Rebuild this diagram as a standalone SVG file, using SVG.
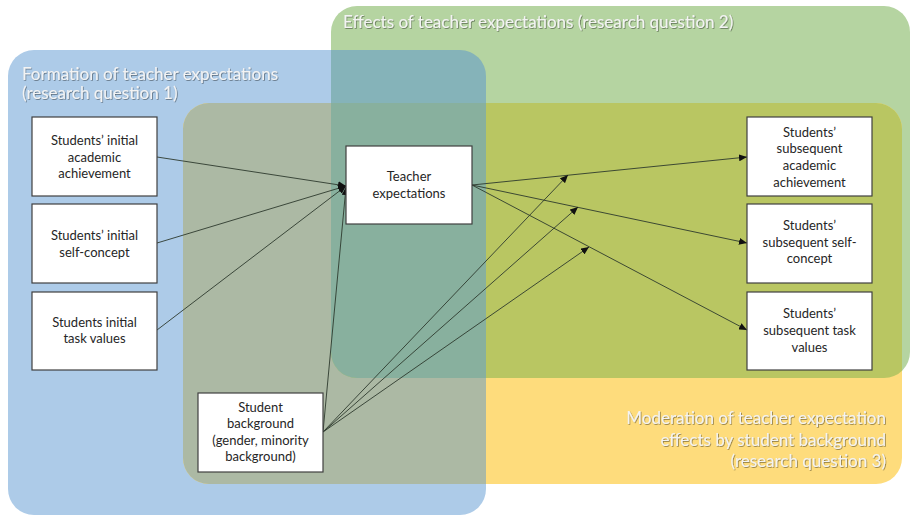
<svg xmlns="http://www.w3.org/2000/svg" width="910" height="515" viewBox="0 0 910 515">
<style>
.node rect{fill:#fff;stroke:#404040;stroke-width:1.2}
.node text{font-family:Lato,"Liberation Sans",sans-serif;font-size:13px;fill:#262626;text-anchor:middle}
.title{font-family:Lato,"Liberation Sans",sans-serif;font-size:17px;fill:#f3f3f3;filter:url(#sh)}
.conn line{stroke:#2e3a2e;stroke-width:0.9;marker-end:url(#ah)}
</style>
<defs>
<filter id="sh" x="-5%" y="-30%" width="110%" height="160%">
<feDropShadow dx="0.8" dy="0.8" stdDeviation="0.5" flood-color="#000" flood-opacity="0.45"/>
</filter>
<marker id="ah" markerUnits="userSpaceOnUse" markerWidth="9" markerHeight="7" refX="8" refY="3.5" orient="auto">
<path d="M0,0 L8,3.5 L0,7 z" fill="#111"/>
</marker>
<clipPath id="cBlue"><rect x="8" y="50" width="478" height="465" rx="26"/></clipPath>
<clipPath id="cGreen"><rect x="331" y="6" width="579" height="372" rx="26"/></clipPath>
</defs>
<g id="regions">
<rect id="blue" x="8" y="50" width="478" height="465" rx="26" fill="#adcbe8"/>
<rect id="green" x="331" y="6" width="579" height="372" rx="26" fill="#b5d4a1"/>
<rect id="yellow" x="183" y="103" width="719" height="381" rx="26" fill="#fedc7c"/>
<rect x="183" y="103" width="719" height="381" rx="26" fill="#acb9a4" clip-path="url(#cBlue)"/>
<rect x="331" y="6" width="579" height="372" rx="26" fill="#85b3b9" clip-path="url(#cBlue)"/>
<rect x="183" y="103" width="719" height="381" rx="26" fill="#b9c662" clip-path="url(#cGreen)"/>
<g clip-path="url(#cBlue)"><rect x="183" y="103" width="719" height="381" rx="26" fill="#88b09e" clip-path="url(#cGreen)"/></g>
</g>
<g id="titles">
<text class="title" x="22" y="80">Formation of teacher expectations</text>
<text class="title" x="22" y="99">(research question 1)</text>
<text class="title" x="343" y="28">Effects of teacher expectations (research question 2)</text>
<text class="title" x="886" y="424" text-anchor="end">Moderation of teacher expectation</text>
<text class="title" x="886" y="446" text-anchor="end">effects by student background</text>
<text class="title" x="886" y="467" text-anchor="end">(research question 3)</text>
</g>
<g id="connectors" class="conn">
<line x1="157" y1="157" x2="346" y2="186"/>
<line x1="157" y1="243" x2="346" y2="186"/>
<line x1="157" y1="330" x2="346" y2="186"/>
<line x1="323" y1="432" x2="346" y2="187"/>
<line x1="472" y1="185" x2="747" y2="157"/>
<line x1="472" y1="185" x2="747" y2="243"/>
<line x1="472" y1="185" x2="747" y2="330"/>
<line x1="323" y1="432" x2="568" y2="175"/>
<line x1="323" y1="432" x2="578" y2="207"/>
<line x1="323" y1="432" x2="589" y2="247"/>
</g>
<g id="n-init-ach" class="node"><rect x="32" y="117" width="125" height="79"/><text x="94.5" y="145">Students’ initial</text><text x="94.5" y="162">academic</text><text x="94.5" y="178">achievement</text></g>
<g id="n-init-sc" class="node"><rect x="32" y="204" width="125" height="79"/><text x="94.5" y="240">Students’ initial</text><text x="94.5" y="257">self-concept</text></g>
<g id="n-init-tv" class="node"><rect x="32" y="292" width="125" height="78"/><text x="94.5" y="327">Students initial</text><text x="94.5" y="343">task values</text></g>
<g id="n-teacher" class="node"><rect x="346" y="146" width="126" height="78"/><text x="409" y="181">Teacher</text><text x="409" y="198">expectations</text></g>
<g id="n-sub-ach" class="node"><rect x="747" y="117" width="125" height="79"/><text x="809.5" y="137">Students’</text><text x="809.5" y="153">subsequent</text><text x="809.5" y="170">academic</text><text x="809.5" y="187">achievement</text></g>
<g id="n-sub-sc" class="node"><rect x="747" y="204" width="125" height="79"/><text x="809.5" y="230">Students’</text><text x="809.5" y="247">subsequent self-</text><text x="809.5" y="263">concept</text></g>
<g id="n-sub-tv" class="node"><rect x="747" y="292" width="125" height="78"/><text x="809.5" y="318">Students’</text><text x="809.5" y="335">subsequent task</text><text x="809.5" y="352">values</text></g>
<g id="n-background" class="node"><rect x="198" y="393" width="125" height="79"/><text x="260.5" y="412">Student</text><text x="260.5" y="428">background</text><text x="260.5" y="445">(gender, minority</text><text x="260.5" y="461">background)</text></g>
</svg>
